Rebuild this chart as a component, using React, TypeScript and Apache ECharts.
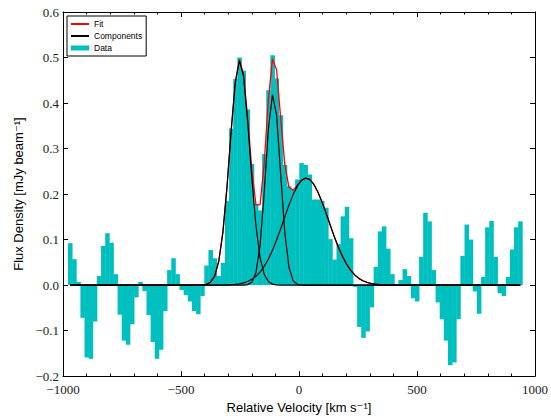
import React, { useEffect, useRef } from "react";
import * as echarts from "echarts";

// Channel velocities (bin centres, km/s)
const velocity = [
  -970, -952.5, -935, -917.5, -900, -882.5, -865, -847.5, -830, -812.5,
  -795, -777.5, -760, -742.5, -725, -707.5, -690, -672.5, -655, -637.5,
  -620, -602.5, -585, -567.5, -550, -532.5, -515, -497.5, -480, -462.5,
  -445, -427.5, -410, -392.5, -375, -357.5, -340, -322.5, -305, -287.5,
  -270, -252.5, -235, -217.5, -200, -182.5, -165, -147.5, -130, -112.5,
  -95, -77.5, -60, -42.5, -25, -7.5, 10, 27.5, 45, 62.5,
  80, 97.5, 115, 132.5, 150, 167.5, 185, 202.5, 220, 237.5,
  255, 272.5, 290, 307.5, 325, 342.5, 360, 377.5, 395, 412.5,
  430, 447.5, 465, 482.5, 500, 517.5, 535, 552.5, 570, 587.5,
  605, 622.5, 640, 657.5, 675, 692.5, 710, 727.5, 745, 762.5,
  780, 797.5, 815, 832.5, 850, 867.5, 885, 902.5, 920, 937.5,
];

// Observed flux density per channel (mJy/beam)
const flux = [
  0.092, 0.057, 0.007, -0.072, -0.159, -0.162, -0.08, 0.02, 0.086, 0.114,
  0.093, 0.024, -0.065, -0.122, -0.131, -0.086, -0.027, 0.007, -0.013, -0.066,
  -0.125, -0.162, -0.142, -0.057, 0.033, 0.059, 0.024, -0.011, -0.022, -0.036,
  -0.057, -0.064, -0.024, 0.043, 0.077, 0.059, 0.02, 0.049, 0.185, 0.344,
  0.453, 0.5, 0.471, 0.386, 0.266, 0.178, 0.164, 0.288, 0.428, 0.505,
  0.454, 0.373, 0.264, 0.217, 0.21, 0.232, 0.268, 0.264, 0.243, 0.188,
  0.188, 0.185, 0.17, 0.101, 0.056, 0.09, 0.151, 0.172, 0.103, -0.004,
  -0.092, -0.116, -0.102, -0.049, 0.04, 0.118, 0.129, 0.08, 0.024, 0.002,
  0.011, 0.035, 0.02, -0.029, -0.036, 0.062, 0.159, 0.14, 0.033, -0.038,
  -0.075, -0.122, -0.176, -0.17, -0.075, 0.064, 0.133, 0.1, -0.014, -0.063,
  0.018, 0.127, 0.141, 0.062, -0.018, -0.024, 0.018, 0.078, 0.127, 0.14,
];

// Component 1 (blue-shifted narrow peak)
const comp1 = [
  0, 0, 0, 0, 0, 0, 0, 0, 0, 0,
  0, 0, 0, 0, 0, 0, 0, 0, 0, 0,
  0, 0, 0, 0, 0, 0, 0, 0, 0, 0,
  0, 0, 0.0004, 0.0017, 0.0063, 0.0198, 0.0522, 0.1158, 0.2157, 0.338,
  0.445, 0.493, 0.4585, 0.3587, 0.2359, 0.1304, 0.0606, 0.0237, 0.0078, 0.0021,
  0.0005, 0, 0, 0, 0, 0, 0, 0, 0, 0,
  0, 0, 0, 0, 0, 0, 0, 0, 0, 0,
  0, 0, 0, 0, 0, 0, 0, 0, 0, 0,
  0, 0, 0, 0, 0, 0, 0, 0, 0, 0,
  0, 0, 0, 0, 0, 0, 0, 0, 0, 0,
  0, 0, 0, 0, 0, 0, 0, 0, 0, 0,
];

// Component 2 (second narrow peak)
const comp2 = [
  0, 0, 0, 0, 0, 0, 0, 0, 0, 0,
  0, 0, 0, 0, 0, 0, 0, 0, 0, 0,
  0, 0, 0, 0, 0, 0, 0, 0, 0, 0,
  0, 0, 0, 0, 0, 0, 0, 0, 0, 0,
  0, 0, 0.0001, 0.001, 0.0062, 0.0273, 0.0871, 0.2021, 0.3411, 0.4186,
  0.3736, 0.2424, 0.1144, 0.0392, 0.0098, 0.0018, 0.0002, 0, 0, 0,
  0, 0, 0, 0, 0, 0, 0, 0, 0, 0,
  0, 0, 0, 0, 0, 0, 0, 0, 0, 0,
  0, 0, 0, 0, 0, 0, 0, 0, 0, 0,
  0, 0, 0, 0, 0, 0, 0, 0, 0, 0,
  0, 0, 0, 0, 0, 0, 0, 0, 0, 0,
];

// Component 3 (broad component)
const comp3 = [
  0, 0, 0, 0, 0, 0, 0, 0, 0, 0,
  0, 0, 0, 0, 0, 0, 0, 0, 0, 0,
  0, 0, 0, 0, 0, 0, 0, 0, 0, 0,
  0, 0, 0, 0, 0, 0.0001, 0.0001, 0.0002, 0.0005, 0.0009,
  0.0016, 0.0028, 0.0048, 0.0079, 0.0125, 0.0192, 0.0286, 0.041, 0.0569, 0.0763,
  0.0989, 0.1239, 0.15, 0.1756, 0.1987, 0.2174, 0.2299, 0.235, 0.2321, 0.2217,
  0.2046, 0.1826, 0.1575, 0.1313, 0.1058, 0.0825, 0.0621, 0.0452, 0.0318, 0.0216,
  0.0142, 0.009, 0.0056, 0.0033, 0.0019, 0.0011, 0.0006, 0.0003, 0.0001, 0.0001,
  0, 0, 0, 0, 0, 0, 0, 0, 0, 0,
  0, 0, 0, 0, 0, 0, 0, 0, 0, 0,
  0, 0, 0, 0, 0, 0, 0, 0, 0, 0,
];

// Total fit
const fit = [
  0, 0, 0, 0, 0, 0, 0, 0, 0, 0,
  0, 0, 0, 0, 0, 0, 0, 0, 0, 0,
  0, 0, 0, 0, 0, 0, 0, 0, 0, 0,
  0, 0, 0.0004, 0.0017, 0.0063, 0.0199, 0.0523, 0.116, 0.2162, 0.3389,
  0.4466, 0.4958, 0.4634, 0.3676, 0.2546, 0.1769, 0.1763, 0.2668, 0.4058, 0.497,
  0.473, 0.3663, 0.2644, 0.2148, 0.2085, 0.2192, 0.2301, 0.235, 0.2321, 0.2217,
  0.2046, 0.1826, 0.1575, 0.1313, 0.1058, 0.0825, 0.0621, 0.0452, 0.0318, 0.0216,
  0.0142, 0.009, 0.0056, 0.0033, 0.0019, 0.0011, 0.0006, 0.0003, 0.0001, 0.0001,
  0, 0, 0, 0, 0, 0, 0, 0, 0, 0,
  0, 0, 0, 0, 0, 0, 0, 0, 0, 0,
  0, 0, 0, 0, 0, 0, 0, 0, 0, 0,
];

const CHANNEL_WIDTH = 17.5;
const CYAN = "#00BFBF";
const SERIF = "'Liberation Serif', 'DejaVu Serif', serif";
const SANS = "'Liberation Sans', 'DejaVu Sans', sans-serif";

const minus = (s: string) => s.replace("-", "\u2212");

export default function App() {
  const ref = useRef<HTMLDivElement>(null);

  useEffect(() => {
    if (!ref.current) return;
    const chart = echarts.init(ref.current, null, { renderer: "svg" });

    const pair = (arr: number[]) => velocity.map((v, i) => [v, arr[i]]);
    const half = CHANNEL_WIDTH / 2;

    const baseX = {
      type: "value",
      min: -1000,
      max: 1000,
      interval: 500,
      axisLine: { show: true, onZero: false, lineStyle: { color: "#000", width: 1 } },
      axisTick: { show: true, inside: true, length: 5, lineStyle: { color: "#000", width: 1 } },
      minorTick: { show: true, splitNumber: 5, length: 2.5, lineStyle: { color: "#000", width: 1 } },
      splitLine: { show: false },
      minorSplitLine: { show: false },
    };
    const baseY = {
      type: "value",
      min: -0.2,
      max: 0.6,
      interval: 0.1,
      axisLine: { show: true, onZero: false, lineStyle: { color: "#000", width: 1 } },
      axisTick: { show: true, inside: true, length: 5, lineStyle: { color: "#000", width: 1 } },
      splitLine: { show: false },
    };

    const lineCommon = {
      type: "line",
      showSymbol: false,
      symbol: "none",
      smooth: false,
      xAxisIndex: 0,
      yAxisIndex: 0,
      silent: true,
    };

    const hiddenSymbol = { opacity: 0, color: "rgba(0,0,0,0)", borderWidth: 0 };

    chart.setOption({
      animation: false,
      backgroundColor: "#fff",
      grid: { left: 63, right: 11, top: 12, bottom: 38, containLabel: false },
      legend: {
        left: 67,
        top: 16,
        orient: "vertical",
        backgroundColor: "#fff",
        borderColor: "#000",
        borderWidth: 1,
        borderRadius: 0,
        padding: [3, 4, 3, 3],
        itemGap: 2,
        itemWidth: 18,
        itemHeight: 5,
        itemTextGap: 7,
        selectedMode: false,
        textStyle: { fontFamily: SANS, fontSize: 8.5, color: "#000", lineHeight: 10 },
        data: [
          { name: "Fit", itemStyle: hiddenSymbol },
          { name: "Components", itemStyle: hiddenSymbol },
          { name: "Data", icon: "rect" },
        ],
      },
      xAxis: [
        {
          ...baseX,
          position: "bottom",
          axisLabel: {
            show: true,
            margin: 7,
            fontFamily: SERIF,
            fontSize: 13,
            color: "#222",
            formatter: (v: number) => minus(String(v)),
          },
          name: "Relative Velocity [km s\u207B\u00B9]",
          nameLocation: "middle",
          nameGap: 20,
          nameTextStyle: { fontFamily: SANS, fontSize: 13, color: "#000" },
        },
        { ...baseX, position: "top", axisLabel: { show: false } },
      ],
      yAxis: [
        {
          ...baseY,
          position: "left",
          axisLabel: {
            show: true,
            margin: 4,
            fontFamily: SERIF,
            fontSize: 13,
            color: "#222",
            formatter: (v: number) => minus(v.toFixed(1)),
          },
          name: "Flux Density [mJy beam\u207B\u00B9]",
          nameLocation: "middle",
          nameGap: 38,
          nameTextStyle: { fontFamily: SANS, fontSize: 13, color: "#000" },
        },
        { ...baseY, position: "right", axisLabel: { show: false } },
      ],
      series: [
        {
          name: "Data",
          type: "custom",
          xAxisIndex: 0,
          yAxisIndex: 0,
          itemStyle: { color: CYAN },
          color: CYAN,
          silent: true,
          data: pair(flux),
          renderItem: (params: any, api: any) => {
            const v = api.value(0);
            const f = api.value(1);
            const p0 = api.coord([v - half, f]);
            const p1 = api.coord([v + half, 0]);
            return {
              type: "rect",
              shape: {
                x: p0[0],
                y: Math.min(p0[1], p1[1]),
                width: p1[0] - p0[0] + 0.4,
                height: Math.abs(p1[1] - p0[1]),
              },
              style: { fill: CYAN },
            };
          },
          z: 1,
        },
        {
          ...lineCommon,
          name: "Fit",
          data: pair(fit),
          color: "#ff0000",
          lineStyle: { color: "#ff0000", width: 1.3 },
          z: 2,
        },
        {
          ...lineCommon,
          name: "Components",
          data: pair(comp1),
          color: "#000",
          lineStyle: { color: "#000", width: 1.2 },
          z: 3,
        },
        {
          ...lineCommon,
          name: "Components",
          data: pair(comp2),
          color: "#000",
          lineStyle: { color: "#000", width: 1.2 },
          z: 3,
        },
        {
          ...lineCommon,
          name: "Components",
          data: pair(comp3),
          color: "#000",
          lineStyle: { color: "#000", width: 1.2 },
          z: 3,
        },
      ],
    });

    return () => chart.dispose();
  }, []);

  return <div ref={ref} style={{ width: 551, height: 419, position: "absolute", left: 0, top: 0 }} />;
}
